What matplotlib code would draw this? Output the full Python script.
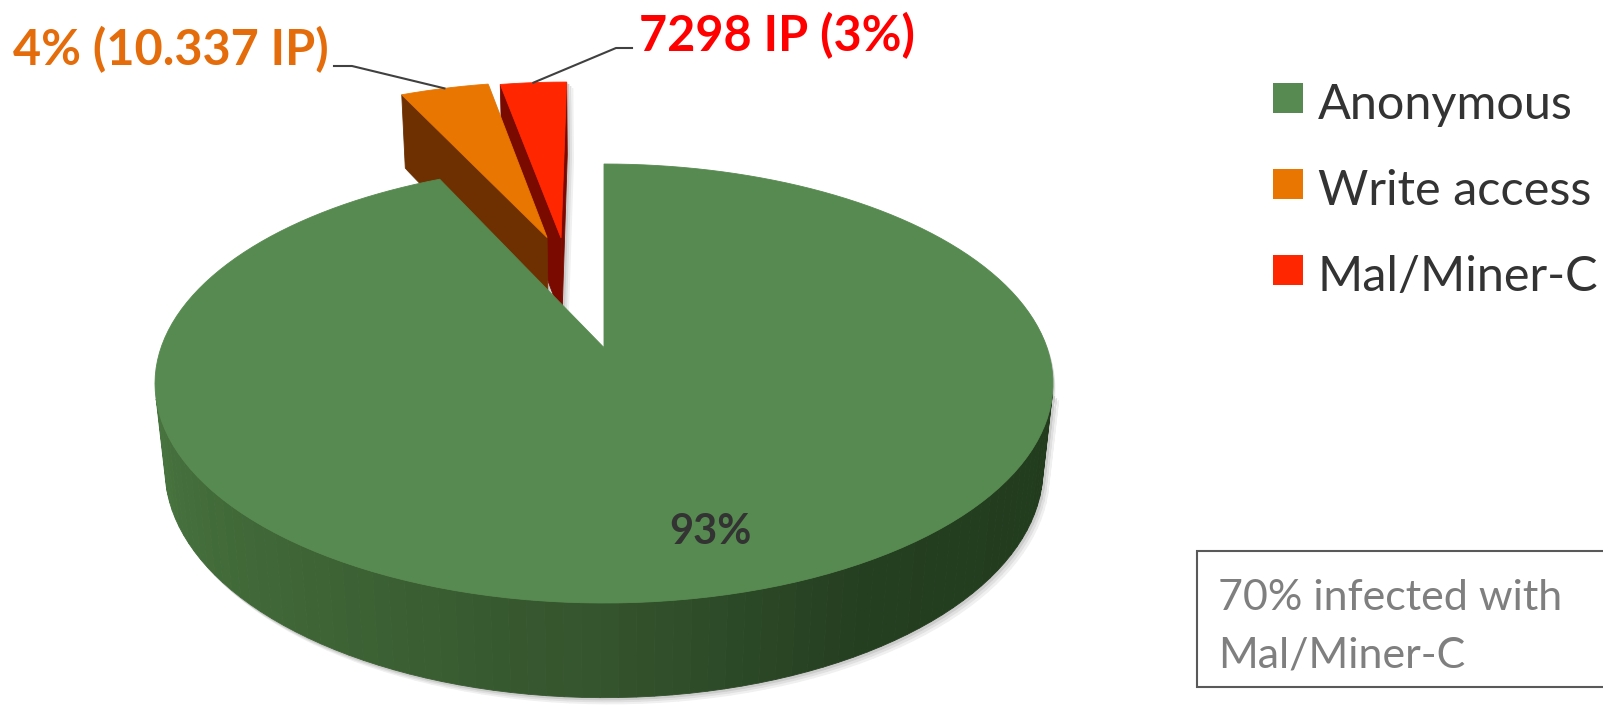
import numpy as np
import matplotlib.pyplot as plt
from matplotlib.patches import Polygon, Rectangle
from matplotlib.colors import to_rgb

plt.rcParams['font.family'] = ['Lato', 'DejaVu Sans']

# Datos del gráfico
categorias = ['Anonymous', 'Write access', 'Mal/Miner-C']
valores = [93, 4, 3]
etiquetas = ['93%', '4% (10.337 IP)', '7298 IP (3%)']
colores = ['#578A50', '#E97600', '#FF2600']
colores_corte = ['#3C6234', '#6E3000', '#7A0A00']
colores_texto = ['#333333', '#E46C0A', '#FF0000']
explode = [0.0, 0.58, 0.57]
ajuste_dir = [0.0, 4.0, -5.3]  # grados, dirección de la separación
nota = ['70% infected with', 'Mal/Miner-C']

W, H = 1603, 705
fig = plt.figure(figsize=(W / 100, H / 100), dpi=100)
ax = fig.add_axes([0, 0, 1, 1])
ax.set_xlim(0, W)
ax.set_ylim(H, 0)
ax.axis('off')

# Cámara (pie 3D con perspectiva, como el de Excel)
elev = np.radians(30)
D = 5.3
eye = np.array([0.0, -D * np.cos(elev), D * np.sin(elev)])
fwd = np.array([0.0, np.cos(elev), -np.sin(elev)])
up = np.array([0.0, np.sin(elev), np.cos(elev)])
h = 0.235  # grosor del pastel


def proj_unit(P):
    rel = np.atleast_2d(P) - eye
    d = rel @ fwd
    return rel[:, 0] / d, (rel @ up) / d


# Ajuste de escala: la cara superior ocupa x 155..1053, y 164..603
t = np.linspace(0, 2 * np.pi, 721)
sx, sy = proj_unit(np.c_[np.sin(t), np.cos(t), np.zeros_like(t)])
kx = (1053 - 155) / (sx.max() - sx.min())
cx = 155 - kx * sx.min()
ky = (603 - 164) / (sy.max() - sy.min())
cy = 164 + ky * sy.max()


def proj(P):
    a, b = proj_unit(P)
    return np.c_[cx + kx * a, cy - ky * b]


def color_lado(phi):
    # sombreado del lateral según el ángulo (luz desde la izquierda)
    angs = [90, 150, 180, 215, 270]
    cols = ['#213A1C', '#243E20', '#34542D', '#3E6435', '#4B7A43']
    deg = np.degrees(phi) % 360
    deg = min(max(deg, 90), 270)
    rgb = np.array([to_rgb(c) for c in cols])
    return tuple(np.interp(deg, angs, rgb[:, k]) for k in range(3))


cum = np.concatenate([[0], np.cumsum(valores)]) / sum(valores) * 2 * np.pi
porciones = []
for i in range(len(valores)):
    p1, p2 = cum[i], cum[i + 1]
    pm = (p1 + p2) / 2
    pe = pm + np.radians(ajuste_dir[i])
    o = explode[i] * np.array([np.sin(pe), np.cos(pe), 0.0])
    n = max(int(np.degrees(p2 - p1) / 2), 4)
    phis = np.linspace(p1, p2, n + 1)
    arco = o + np.c_[np.sin(phis), np.cos(phis), np.zeros_like(phis)]
    baja = arco - [0, 0, h]
    caras = []
    # caras de corte
    for phi, nrm in [(p1, np.array([-np.cos(p1), np.sin(p1), 0])),
                     (p2, np.array([np.cos(p2), -np.sin(p2), 0]))]:
        r = o + np.array([np.sin(phi), np.cos(phi), 0])
        quad = np.array([o, r, r - [0, 0, h], o - [0, 0, h]])
        if nrm @ (eye - quad.mean(axis=0)) > 0:
            caras.append((quad, colores_corte[i]))
    # lateral exterior
    for j in range(n):
        m = (phis[j] + phis[j + 1]) / 2
        nrm = np.array([np.sin(m), np.cos(m), 0])
        quad = np.array([arco[j], arco[j + 1], baja[j + 1], baja[j]])
        if nrm @ (eye - quad.mean(axis=0)) > 0:
            c = color_lado(m) if i == 0 else colores_corte[i]
            caras.append((quad, c))
    tapa = np.vstack([o, arco])
    d = ((tapa - eye) @ fwd).mean()
    porciones.append((d, i, caras, tapa, o, pm))

# sombra suave
for off, col in [(6, '#F0F0F0'), (4, '#E0E0E0'), (2, '#CCCCCC')]:
    for d, i, caras, tapa, o, pm in porciones:
        for quad, c in caras:
            ax.add_patch(Polygon(proj(quad) + off, closed=True, fc=col, ec=col, lw=1, zorder=1))
        ax.add_patch(Polygon(proj(tapa) + [off * 0.3, off], closed=True, fc=col, ec=col, lw=1, zorder=1))

# dibujar de atrás hacia delante
for d, i, caras, tapa, o, pm in sorted(porciones, key=lambda x: -x[0]):
    for quad, c in caras:
        ax.add_patch(Polygon(proj(quad), closed=True, fc=c, ec=c, lw=0.6, zorder=2))
    ax.add_patch(Polygon(proj(tapa), closed=True, fc=colores[i], ec=colores[i], lw=0.6, zorder=2))


def punto_arco(k):
    o, pm = porciones[k][4], porciones[k][5]
    return proj(o + np.array([np.sin(pm), np.cos(pm), 0]))[0]


# etiquetas de datos
ax.text(710, 532, etiquetas[0], color=colores_texto[0], fontsize=30, fontweight='bold',
        ha='center', va='center', zorder=5)

p_or = punto_arco(1)
ax.plot([334, 352, p_or[0]], [66, 66, p_or[1]], color='#404040', lw=1.5, zorder=4)
ax.text(329, 50, etiquetas[1], color=colores_texto[1], fontsize=35, fontweight='bold',
        ha='right', va='center', zorder=5)

p_rj = punto_arco(2)
ax.plot([632, 616, p_rj[0]], [48, 48, p_rj[1]], color='#404040', lw=1.5, zorder=4)
ax.text(639, 36, etiquetas[2], color=colores_texto[2], fontsize=35, fontweight='bold',
        ha='left', va='center', zorder=5)

# leyenda
for k, (cat, col) in enumerate(zip(categorias, colores)):
    yc = 98 + k * 86
    ax.add_patch(Rectangle((1273, yc - 15), 30, 30, fc=col, ec='none', zorder=5))
    ax.text(1318, yc + 21, cat, color='#333333', fontsize=35, ha='left', va='baseline', zorder=5)

# cuadro de texto
ax.add_patch(Rectangle((1197, 551), 420, 136, fc='white', ec='#595959', lw=1.5, zorder=5))
for k, linea in enumerate(nota):
    ax.text(1218, 610 + k * 57, linea, color='#7F7F7F', fontsize=31, ha='left',
            va='baseline', zorder=6)

plt.savefig('out.png', dpi=100)
